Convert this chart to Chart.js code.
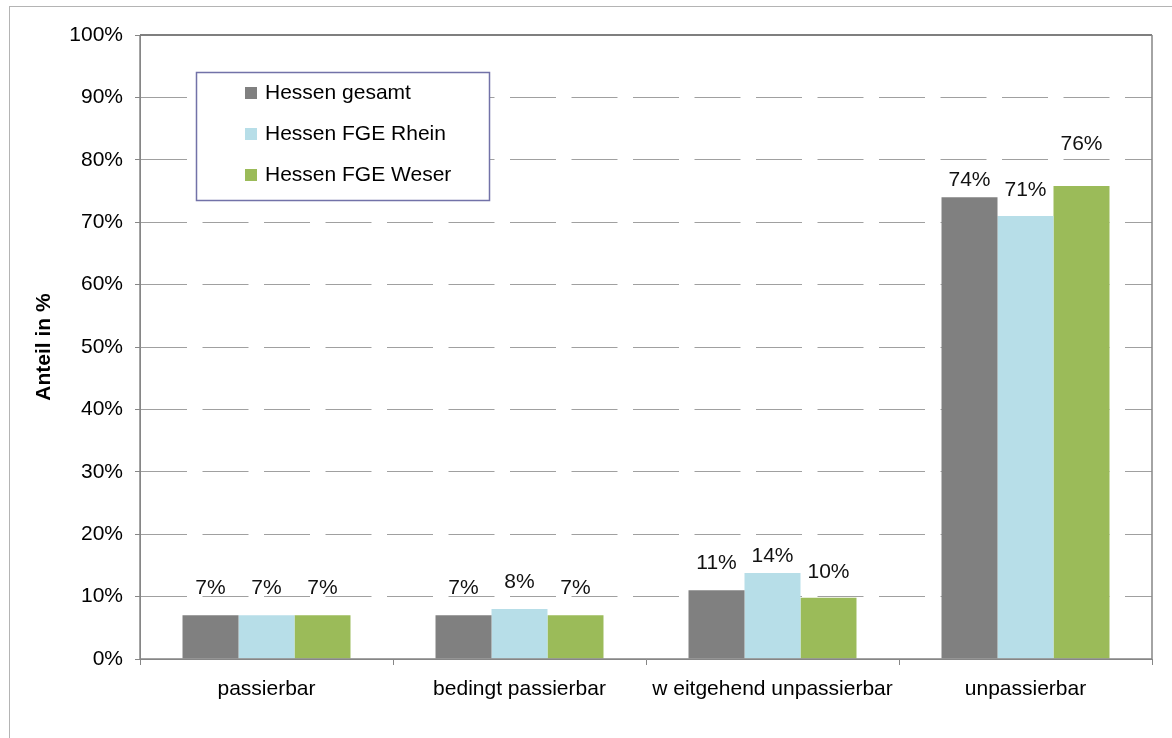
<!DOCTYPE html>
<html lang="de">
<head>
    <meta charset="UTF-8">
    <title>Durchgängigkeit Hessen</title>
    <script src="https://cdn.jsdelivr.net/npm/chart.js"></script>
    <style>
        body {
            margin: 0;
            background: #fff;
        }
        canvas {
            display: block;
        }
    </style>
</head>
<body>
<canvas id="chart" width="1172" height="738"></canvas>

<script>
// Daten
const categories = ['passierbar', 'bedingt passierbar', 'w eitgehend unpassierbar', 'unpassierbar'];
const seriesNames = ['Hessen gesamt', 'Hessen FGE Rhein', 'Hessen FGE Weser'];
const gesamt = [7.0, 7.0, 11.0, 74.0];
const rhein = [7.0, 8.0, 13.8, 71.0];
const weser = [7.0, 7.0, 9.8, 75.8];
const yTicks = [0, 10, 20, 30, 40, 50, 60, 70, 80, 90, 100];

const colors = ['#808080', '#b7dee8', '#9bbb59'];
// Abstand der Beschriftung über dem Balken (px), wie im Original verschoben
const labelLift = [
    [27, 27, 27, 17],
    [27, 27, 17, 26],
    [27, 27, 26, 42]
];

const FONT = "'Liberation Sans', Arial, sans-serif";
const FSIZE = 21;

// Rahmen + Zeichenflächenrand
const framePlugin = {
    id: 'frame',
    beforeDraw(chart) {
        const ctx = chart.ctx;
        ctx.save();
        ctx.fillStyle = '#fff';
        ctx.fillRect(0, 0, chart.width, chart.height);
        ctx.strokeStyle = '#b4b4b4';
        ctx.lineWidth = 1;
        ctx.strokeRect(9.5, 6.5, chart.width + 20, chart.height + 20);
        ctx.restore();
    },
    afterDatasetsDraw(chart) {
        const a = chart.chartArea;
        const ctx = chart.ctx;
        ctx.save();
        ctx.lineWidth = 1.5;
        ctx.strokeStyle = '#555';
        ctx.beginPath();
        ctx.moveTo(a.left, a.top);
        ctx.lineTo(a.right, a.top);
        ctx.stroke();
        ctx.strokeStyle = '#868686';
        ctx.beginPath();
        ctx.moveTo(a.right, a.top);
        ctx.lineTo(a.right, a.bottom);
        ctx.lineTo(a.left, a.bottom);
        ctx.lineTo(a.left, a.top);
        ctx.stroke();
        ctx.restore();
    }
};

// Werte über den Balken
const valueLabels = {
    id: 'valueLabels',
    afterDatasetsDraw(chart) {
        const ctx = chart.ctx;
        ctx.save();
        ctx.font = FSIZE + 'px ' + FONT;
        ctx.fillStyle = '#111';
        ctx.textAlign = 'center';
        ctx.textBaseline = 'middle';
        chart.data.datasets.forEach((ds, i) => {
            chart.getDatasetMeta(i).data.forEach((bar, j) => {
                ctx.fillText(Math.round(ds.data[j]) + '%', bar.x, bar.y - labelLift[i][j]);
            });
        });
        ctx.restore();
    }
};

// Legende im Kasten
const boxLegend = {
    id: 'boxLegend',
    afterDraw(chart) {
        const ctx = chart.ctx;
        ctx.save();
        ctx.fillStyle = '#fff';
        ctx.fillRect(196, 72, 294, 129);
        ctx.strokeStyle = '#7272a8';
        ctx.lineWidth = 1.5;
        ctx.strokeRect(196.5, 72.5, 293, 128);
        ctx.font = FSIZE + 'px ' + FONT;
        ctx.textBaseline = 'middle';
        chart.data.datasets.forEach((ds, i) => {
            const y = 93 + i * 41;
            ctx.fillStyle = ds.backgroundColor;
            ctx.fillRect(245, y - 6, 12, 12);
            ctx.fillStyle = '#000';
            ctx.fillText(ds.label, 265, y);
        });
        ctx.restore();
    }
};

new Chart(document.getElementById('chart'), {
    type: 'bar',
    data: {
        labels: categories,
        datasets: [gesamt, rhein, weser].map((d, i) => ({
            label: seriesNames[i],
            data: d,
            backgroundColor: colors[i],
            borderWidth: 0,
            categoryPercentage: 0.664,
            barPercentage: 1.0
        }))
    },
    options: {
        responsive: false,
        animation: false,
        layout: { padding: { top: 35, right: 20, left: 0, bottom: 0 } },
        plugins: {
            legend: { display: false },
            tooltip: { enabled: false }
        },
        scales: {
            x: {
                afterFit: s => { s.height = 79; },
                grid: {
                    drawOnChartArea: false,
                    drawTicks: true,
                    tickLength: 6,
                    tickColor: '#868686',
                    offset: true
                },
                border: { color: '#868686' },
                ticks: {
                    color: '#000',
                    padding: 12,
                    font: { family: FONT, size: FSIZE },
                    maxRotation: 0,
                    autoSkip: false
                }
            },
            y: {
                min: 0,
                max: 100,
                afterFit: s => { s.width = 140; },
                afterBuildTicks: s => { s.ticks = yTicks.map(v => ({ value: v })); },
                grid: {
                    color: c => (c.tick && (c.tick.value === 0 || c.tick.value === 100)) ? 'rgba(0,0,0,0)' : '#a0a0a0',
                    lineWidth: 1,
                    tickLength: 5,
                    tickColor: '#868686'
                },
                border: { color: '#868686', dash: [46, 15.5] },
                ticks: {
                    color: '#000',
                    padding: 12,
                    font: { family: FONT, size: FSIZE },
                    callback: v => v + '%'
                },
                title: {
                    display: true,
                    text: 'Anteil in %',
                    color: '#000',
                    font: { family: FONT, size: FSIZE, weight: 'bold' },
                    padding: { top: 32, bottom: 0 }
                }
            }
        }
    },
    plugins: [framePlugin, valueLabels, boxLegend]
});
</script>
</body>
</html>
